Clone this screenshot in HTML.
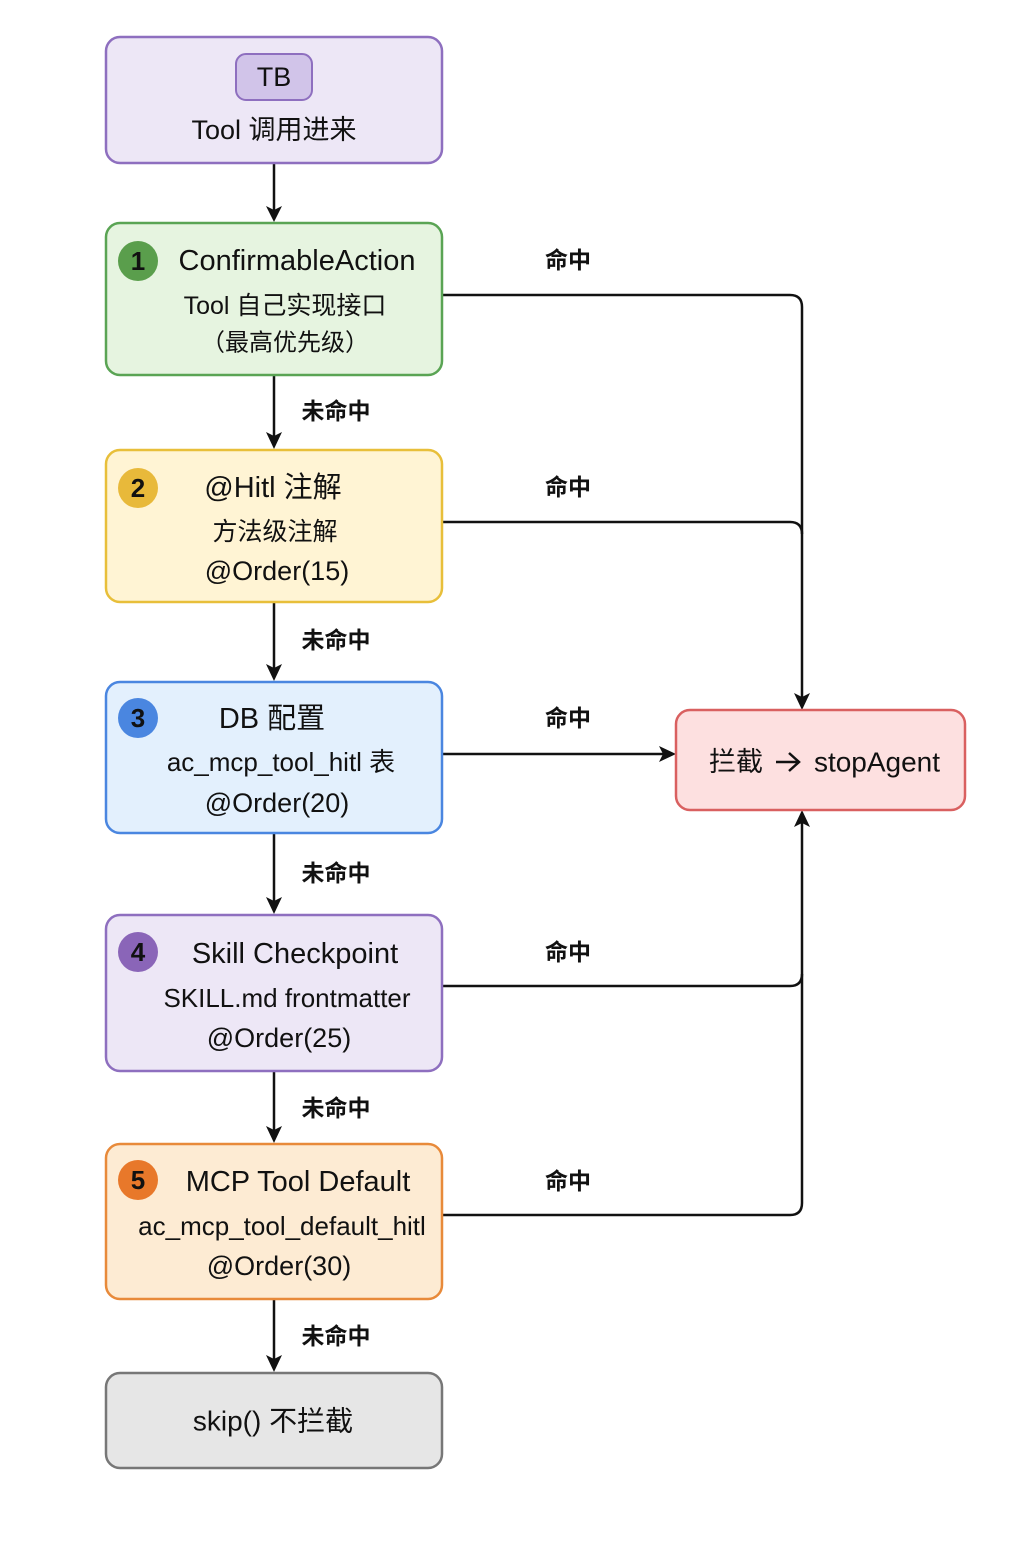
<!DOCTYPE html>
<html><head><meta charset="utf-8"><style>
html,body{margin:0;padding:0;background:#fff;}
svg text{font-family:"Liberation Sans","Noto Sans CJK SC",sans-serif;fill:#111;dominant-baseline:central;text-anchor:middle;}
</style></head><body>
<svg width="1024" height="1536" viewBox="0 0 1024 1536" xmlns="http://www.w3.org/2000/svg">
<g fill="none" stroke="#111" stroke-width="2.5">
<line x1="274" y1="164" x2="274" y2="210"/>
<line x1="274" y1="376" x2="274" y2="440"/>
<line x1="274" y1="603" x2="274" y2="670"/>
<line x1="274" y1="834" x2="274" y2="903"/>
<line x1="274" y1="1072" x2="274" y2="1132"/>
<line x1="274" y1="1300" x2="274" y2="1361"/>
<path d="M442,295 H790 Q802,295 802,307 V700"/>
<path d="M442,522 H790 Q802,522 802,534"/>
<line x1="442" y1="754" x2="664" y2="754"/>
<path d="M442,986 H790 Q802,986 802,974 V822"/>
<path d="M442,1215 H790 Q802,1215 802,1203 V974"/>
</g>
<g fill="#111">
<path d="M266,206 L274,222 L282,206 L274,210z"/>
<path d="M266,432 L274,449 L282,432 L274,436z"/>
<path d="M266,664 L274,681 L282,664 L274,668z"/>
<path d="M266,897 L274,914 L282,897 L274,901z"/>
<path d="M266,1126 L274,1143 L282,1126 L274,1130z"/>
<path d="M266,1355 L274,1372 L282,1355 L274,1359z"/>
<path d="M794,693 L802,710 L810,693 L802,697z"/>
<path d="M794,827 L802,810 L810,827 L802,823z"/>
<path d="M659,746 L676,754 L659,762 L663,754z"/>
</g>
<rect x="106" y="37" width="336" height="126" rx="14" fill="#ede7f6" stroke="#8e6fbf" stroke-width="2.5"/>
<rect x="236" y="54" width="76" height="46" rx="10" fill="#d1c4e9" stroke="#8e6fbf" stroke-width="2"/>
<text x="274" y="77" font-size="27" fill="#2a1a4a">TB</text>
<text x="274" y="130" font-size="27">Tool 调用进来</text>

<rect x="106" y="223" width="336" height="152" rx="14" fill="#e6f4e0" stroke="#5aa454" stroke-width="2.5"/>
<circle cx="138" cy="261" r="20" fill="#5a9e4c"/><text x="138" y="261" font-size="26" font-weight="bold" fill="#fff">1</text>
<text x="297" y="261" font-size="29">ConfirmableAction</text>
<text x="285" y="306" font-size="25">Tool 自己实现接口</text>
<text x="285" y="343" font-size="24">（最高优先级）</text>

<rect x="106" y="450" width="336" height="152" rx="14" fill="#fff4d4" stroke="#e8bf3a" stroke-width="2.5"/>
<circle cx="138" cy="488" r="20" fill="#e8b93a"/><text x="138" y="488" font-size="26" font-weight="bold" fill="#fff">2</text>
<text x="273" y="488" font-size="29">@Hitl 注解</text>
<text x="275" y="532" font-size="25">方法级注解</text>
<text x="277" y="571" font-size="27">@Order(15)</text>

<rect x="106" y="682" width="336" height="151" rx="14" fill="#e3f0fd" stroke="#4a86e0" stroke-width="2.5"/>
<circle cx="138" cy="718" r="20" fill="#4a86e0"/><text x="138" y="718" font-size="26" font-weight="bold" fill="#fff">3</text>
<text x="272" y="719" font-size="29">DB 配置</text>
<text x="281" y="762" font-size="26">ac_mcp_tool_hitl 表</text>
<text x="277" y="803" font-size="27">@Order(20)</text>

<rect x="106" y="915" width="336" height="156" rx="14" fill="#ede7f6" stroke="#8e6fbf" stroke-width="2.5"/>
<circle cx="138" cy="952" r="20" fill="#8a65b8"/><text x="138" y="952" font-size="26" font-weight="bold" fill="#fff">4</text>
<text x="295" y="954" font-size="29">Skill Checkpoint</text>
<text x="287" y="998" font-size="26">SKILL.md frontmatter</text>
<text x="279" y="1038" font-size="27">@Order(25)</text>

<rect x="106" y="1144" width="336" height="155" rx="14" fill="#fdebd3" stroke="#e88a3a" stroke-width="2.5"/>
<circle cx="138" cy="1180" r="20" fill="#e8782a"/><text x="138" y="1180" font-size="26" font-weight="bold" fill="#fff">5</text>
<text x="298" y="1182" font-size="29">MCP Tool Default</text>
<text x="282" y="1226" font-size="26">ac_mcp_tool_default_hitl</text>
<text x="279" y="1266" font-size="27">@Order(30)</text>

<rect x="106" y="1373" width="336" height="95" rx="14" fill="#e6e6e6" stroke="#777" stroke-width="2.5"/>
<text x="273" y="1421" font-size="28">skip() 不拦截</text>

<rect x="676" y="710" width="289" height="100" rx="14" fill="#fde0e0" stroke="#d96060" stroke-width="2.5"/>
<text x="736" y="762" font-size="27">拦截</text>
<text x="877" y="762" font-size="28">stopAgent</text>
<path d="M776,762 H798 M789,753 L799,762 L789,771" fill="none" stroke="#111" stroke-width="2.5"/>

<g font-size="23" font-weight="bold">
<text x="568" y="260">命中</text>
<text x="568" y="487">命中</text>
<text x="568" y="718">命中</text>
<text x="568" y="952">命中</text>
<text x="568" y="1181">命中</text>
<text x="336" y="411">未命中</text>
<text x="336" y="640">未命中</text>
<text x="336" y="873">未命中</text>
<text x="336" y="1108">未命中</text>
<text x="336" y="1336">未命中</text>
</g>
</svg>
</body></html>
